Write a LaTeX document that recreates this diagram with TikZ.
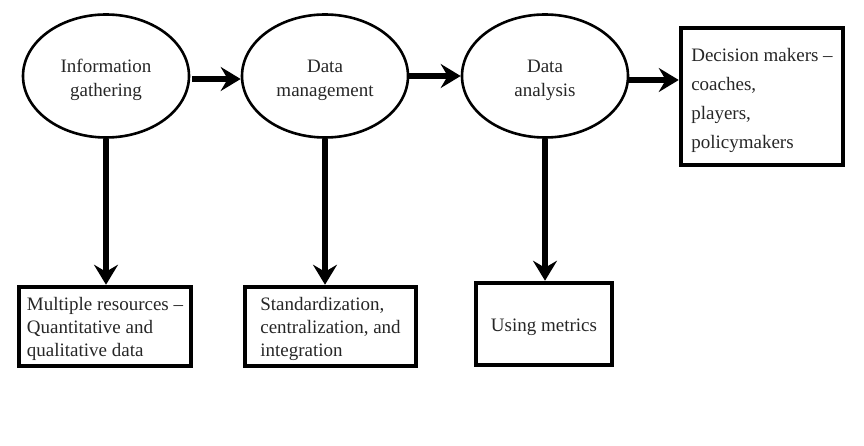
\documentclass[tikz,border=0pt]{standalone}
\usepackage{fontspec}
\setmainfont{Liberation Serif}
\usetikzlibrary{shapes.geometric,arrows.meta}
\newcommand{\topup}[1]{\rule{0pt}{#1}}
\begin{document}
\begin{tikzpicture}[x=1pt,y=-1pt,
  oval/.style={ellipse,draw,line width=2.6pt,minimum width=166pt,minimum height=123pt,inner sep=0pt,align=center,text=black!85,font=\fontsize{19}{24}\selectfont},
  boxn/.style={rectangle,draw,line width=4.5pt,inner sep=0pt,align=left,text=black!85,font=\fontsize{19}{23}\selectfont},
  arr/.style={line width=6pt,-{Stealth[length=20pt,width=24pt,inset=7pt]}}]
\useasboundingbox (0,0) rectangle (864,446);
\node[oval] (e1) at (106,76) {\topup{22pt}Information\\gathering};
\node[oval] (e2) at (325,76) {\topup{22pt}Data\\management};
\node[oval] (e3) at (545,76) {\topup{22pt}Data\\analysis};
\node[boxn,minimum width=162pt,minimum height=137pt,font=\fontsize{19}{29}\selectfont] (dm) at (762,96.5) {\topup{21pt}Decision makers --\\coaches,\\players,\\policymakers};
\node[boxn,minimum width=172pt,minimum height=79pt] (b1) at (105,326.5) {\topup{19pt}Multiple resources --\\Quantitative and\\qualitative data};
\node[boxn,minimum width=171pt,minimum height=79pt] (b2) at (330.5,326.5) {\topup{19pt}Standardization,\\centralization, and\\integration};
\node[boxn,minimum width=136pt,minimum height=82pt] (b3) at (544,324) {\topup{19pt}Using metrics};
\draw[arr] (e1.east) ++(2,3) coordinate (a1s) -- (a1s -| e2.west);
\draw[arr] (e2.east) -- (e3.west);
\draw[arr] (e3.east) ++(0,4) coordinate (a3s) -- (a3s -| dm.west);
\draw[arr] (e1.south) -- (e1.south |- b1.north);
\draw[arr] (e2.south) -- (e2.south |- b2.north);
\draw[arr] (e3.south) -- (e3.south |- b3.north);
\end{tikzpicture}
\end{document}
